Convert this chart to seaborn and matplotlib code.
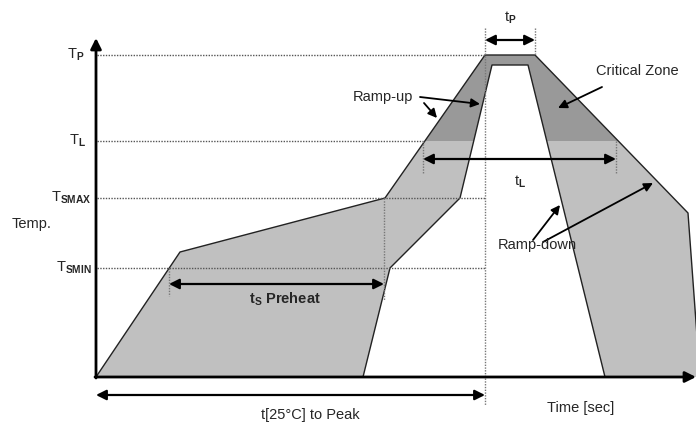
import matplotlib.pyplot as plt
import seaborn as sns
from matplotlib.patches import Rectangle

sns.set_style('white')
plt.rcParams['font.family'] = ['Liberation Sans', 'DejaVu Sans']
plt.rcParams['mathtext.fontset'] = 'custom'
plt.rcParams['mathtext.rm'] = 'Liberation Sans'
plt.rcParams['mathtext.bf'] = 'Liberation Sans:bold'

# schematic coords (x = time, y = height from top, px-like units)
level_labels = [r'T$_\mathbf{P}$', r'T$_\mathbf{L}$', r'T$_\mathbf{SMAX}$', r'T$_\mathbf{SMIN}$']
level_y = [55, 141, 198, 268]
level_end = [485, 423, 485, 485]
label_right = [84, 86, 92, 92]

outer_x = [96, 180, 385, 485, 535, 688, 700]
outer_y = [377, 252, 198, 55, 55, 213, 377]
inner_x = [363, 390, 460, 492, 528, 605]
inner_y = [377, 268, 198, 65, 65, 377]

# (x, y0, y1) vertical dotted markers
vmarks = [(485, 28, 405), (535, 28, 55), (423, 141, 173), (616, 141, 173),
          (384, 198, 300), (169, 268, 296)]
# double arrows: (x0, x1, y)
spans = [(485, 535, 40), (423, 616, 159), (169, 384, 284), (96, 485, 395)]
# pointer arrows: (from, to)
pointers = [((420, 97), (480, 104)), ((424, 103), (437, 118)),
            ((602, 87), (558, 108)), ((533, 240), (560, 205)),
            ((543, 242), (653, 183))]

fig = plt.figure(figsize=(6.96, 4.24), dpi=100)
ax = fig.add_axes([0, 0, 1, 1])
ax.axis('off')

poly_x = outer_x + inner_x[::-1]
poly_y = outer_y + inner_y[::-1]
ax.fill(poly_x, poly_y, color='#c0c0c0', lw=0)
dark = ax.fill(poly_x, poly_y, color='#999999', lw=0)[0]
dark.set_clip_path(Rectangle((0, 0), 700, level_y[1], transform=ax.transData))

sns.lineplot(x=outer_x, y=outer_y, sort=False, estimator=None, color='#222222', lw=1, ax=ax)
sns.lineplot(x=inner_x, y=inner_y, sort=False, estimator=None, color='#222222', lw=1, ax=ax)
ax.set_xlim(0, 696)
ax.set_ylim(424, 0)

for lab, y, xe, xr in zip(level_labels, level_y, level_end, label_right):
    ax.plot([97, xe], [y, y], ls=(0, (1, 1)), lw=1, color='#555555')
    ax.text(xr, y, lab, ha='right', va='center', fontsize=10.5)

for x, y0, y1 in vmarks:
    ax.plot([x, x], [y0, y1], ls=(0, (1, 1)), lw=1, color='#777777')

# axes arrows
ax.annotate('', xy=(96, 38), xytext=(96, 378), annotation_clip=False,
            arrowprops=dict(arrowstyle='-|>', lw=2, color='black', mutation_scale=16, shrinkA=0, shrinkB=0))
ax.annotate('', xy=(696, 377), xytext=(95, 377), annotation_clip=False,
            arrowprops=dict(arrowstyle='-|>', lw=2, color='black', mutation_scale=16, shrinkA=0, shrinkB=0))

for x0, x1, y in spans:
    ax.annotate('', xy=(x1, y), xytext=(x0, y),
                arrowprops=dict(arrowstyle='<|-|>', lw=1.6, color='black', mutation_scale=15, shrinkA=0, shrinkB=0))

for p0, p1 in pointers:
    ax.annotate('', xy=p1, xytext=p0,
                arrowprops=dict(arrowstyle='-|>', lw=1.3, color='black', mutation_scale=13, shrinkA=0, shrinkB=0))

ax.text(12, 224, 'Temp.', ha='left', va='center', fontsize=10.5)
ax.text(547, 408, 'Time [sec]', ha='left', va='center', fontsize=10.5)
ax.text(310, 415, 't[25°C] to Peak', ha='center', va='center', fontsize=10.5)
ax.text(285, 299, r't$_\mathbf{S}$ Preheat', ha='center', va='center', fontsize=10.5, fontweight='bold')
ax.text(510, 18, r't$_\mathbf{P}$', ha='center', va='center', fontsize=10.5)
ax.text(520, 182, r't$_\mathbf{L}$', ha='center', va='center', fontsize=10.5)
ax.text(353, 97, 'Ramp-up', ha='left', va='center', fontsize=10.5)
ax.text(637, 71, 'Critical Zone', ha='center', va='center', fontsize=10.5)
ax.text(537, 245, 'Ramp-down', ha='center', va='center', fontsize=10.5)

fig.savefig('out.png', dpi=100)
